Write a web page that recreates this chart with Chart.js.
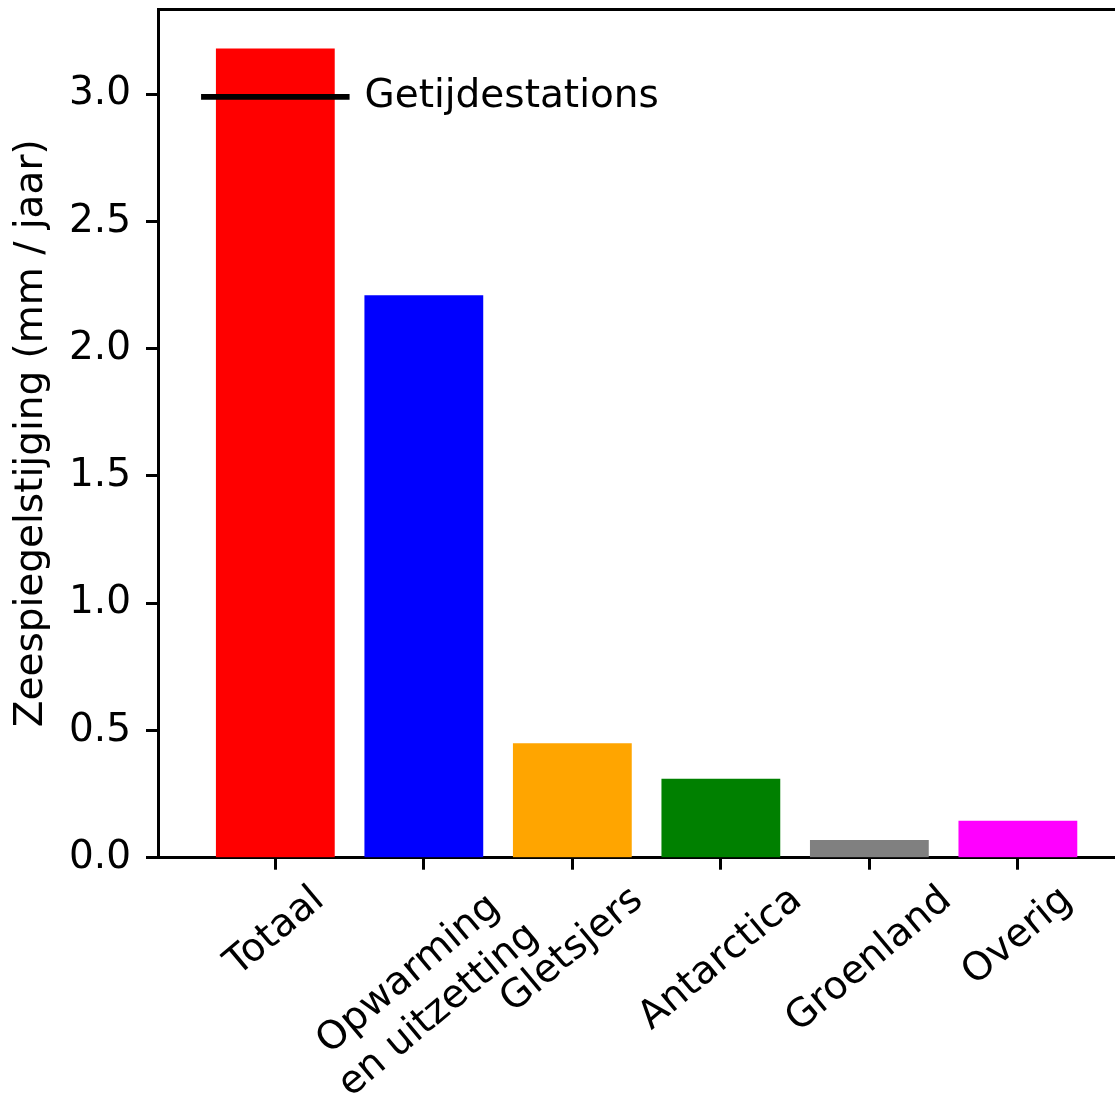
<!DOCTYPE html>
<html>
<head>
<meta charset="utf-8">
<script src="https://cdn.jsdelivr.net/npm/chart.js@4.4.1/dist/chart.umd.min.js"></script>
<style>
  html, body { margin: 0; padding: 0; background: #fff; overflow: hidden; }
  #wrap { position: relative; width: 1115px; height: 1095px; }
</style>
</head>
<body>
<div id="wrap"><canvas id="c"></canvas></div>
<script>
// Contributions to sea-level rise (mm / year)
const categories = ['Totaal', 'Opwarming\nen uitzetting', 'Gletsjers', 'Antarctica', 'Groenland', 'Overig'];
const rates = [3.18, 2.21, 0.45, 0.31, 0.07, 0.145];
const barColors = ['#ff0000', '#0000ff', '#ffa500', '#008000', '#808080', '#ff00ff'];
const yTicks = [0.0, 0.5, 1.0, 1.5, 2.0, 2.5, 3.0];

// Tide-gauge reference rate, drawn as a short line across the first bar
const gaugeRate = 2.99;
const gaugeSpan = [-0.5, 0.5];
const gaugeLabel = 'Getijdestations';
const yTitle = 'Zeespiegelstijging (mm / jaar)';

const FONT = 'DejaVu Sans';
const FS = 39;
const X_MIN = -0.79, X_MAX = 5.654, Y_MAX = 3.335;
const LABEL_ANGLE = 40;      // degrees, counter-clockwise
const LABEL_GAP = 19.5;      // px between axis line and rotated label box
const GAUGE_TEXT_X = 0.6;    // data x where the gauge label starts

Chart.defaults.font.family = FONT;
Chart.defaults.font.size = FS;
Chart.defaults.color = '#000';

// Rotated category labels, centred under each tick, plus the gauge label
const labelPlugin = {
  id: 'catLabels',
  afterDraw(chart) {
    const ctx = chart.ctx, xs = chart.scales.x, ys = chart.scales.y;
    const theta = LABEL_ANGLE * Math.PI / 180;
    const lineH = FS * 1.2;
    ctx.save();
    ctx.font = FS + 'px "' + FONT + '"';
    ctx.fillStyle = '#000';
    ctx.textAlign = 'center';
    ctx.textBaseline = 'middle';
    categories.forEach((lab, i) => {
      const lines = lab.split('\n');
      const w = Math.max(...lines.map(l => ctx.measureText(l).width));
      const h = lines.length * lineH;
      const bh = w * Math.sin(theta) + h * Math.cos(theta);
      const cx = xs.getPixelForValue(i);
      const cy = xs.top + LABEL_GAP + bh / 2;
      ctx.save();
      ctx.translate(cx, cy);
      ctx.rotate(-theta);
      lines.forEach((l, k) => ctx.fillText(l, 0, -h / 2 + lineH * (k + 0.5)));
      ctx.restore();
    });
    ctx.textAlign = 'left';
    ctx.fillText(gaugeLabel, xs.getPixelForValue(GAUGE_TEXT_X), ys.getPixelForValue(gaugeRate));
    ctx.restore();
  }
};

const tickGrid = {
  display: true, drawOnChartArea: false, drawTicks: true, offset: false,
  tickLength: 12, tickWidth: 3, tickColor: '#000'
};
const spine = { display: true, width: 3, color: '#000' };

new Chart(document.getElementById('c'), {
  type: 'bar',
  data: {
    datasets: [
      {
        type: 'line',
        data: gaugeSpan.map(x => ({ x, y: gaugeRate })),
        borderColor: '#000', borderWidth: 5.8, borderCapStyle: 'butt',
        pointRadius: 0, fill: false
      },
      {
        type: 'bar',
        data: rates.map((y, i) => ({ x: i, y })),
        backgroundColor: barColors,
        borderWidth: 0,
        categoryPercentage: 1.0,
        barPercentage: 0.8
      }
    ]
  },
  options: {
    responsive: true,
    maintainAspectRatio: false,
    animation: false,
    layout: { padding: { top: 9, left: 0, right: 0, bottom: 0 } },
    plugins: { legend: { display: false }, tooltip: { enabled: false } },
    scales: {
      x: {
        type: 'linear', position: 'bottom', min: X_MIN, max: X_MAX, z: 1,
        offset: false,
        grid: tickGrid, border: spine,
        ticks: { display: false },
        afterBuildTicks: s => { s.ticks = categories.map((_, i) => ({ value: i })); },
        afterFit: s => { s.height = 237.3; s.paddingLeft = 0; s.paddingRight = 0; }
      },
      xTop: {
        type: 'linear', position: 'top', min: X_MIN, max: X_MAX, z: 1,
        offset: false,
        grid: { display: false }, border: spine,
        ticks: { display: false },
        afterFit: s => { s.height = 0; s.paddingLeft = 0; s.paddingRight = 0; }
      },
      y: {
        type: 'linear', position: 'left', min: 0, max: Y_MAX, z: 1,
        grid: tickGrid, border: spine,
        ticks: { padding: 15, callback: v => v.toFixed(1) },
        afterBuildTicks: s => { s.ticks = yTicks.map(v => ({ value: v })); },
        title: { display: true, text: yTitle, padding: { top: 8, bottom: 0 } },
        afterFit: s => { s.width = 158; s.paddingTop = 0; s.paddingBottom = 0; }
      }
    }
  },
  plugins: [labelPlugin]
});
</script>
</body>
</html>
